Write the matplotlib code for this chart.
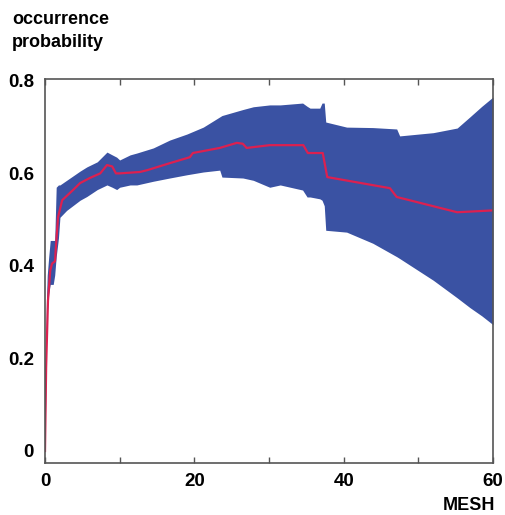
import numpy as np
import matplotlib.pyplot as plt

plt.rcParams['font.family'] = ['Liberation Sans', 'DejaVu Sans']

# spread of occurrence probability (lower / upper bound) vs MESH
band_x = [0.0, 0.1, 0.2, 0.3, 0.5, 0.7, 1.1, 1.3, 1.5, 1.8, 2.0, 2.9, 4.7, 5.6,
          7.0, 8.3, 9.0, 9.6, 10.0, 11.4, 12.3, 14.5, 16.7, 19.0, 21.2, 23.4,
          23.7, 26.5, 27.9, 30.1, 31.5, 34.5, 35.1, 35.5, 36.8, 37.1, 37.4,
          37.6, 40.4, 43.9, 47.1, 47.5, 52.0, 55.2, 56.9, 58.5, 60.0]
band_lo = [0.0, 0.12, 0.24, 0.30, 0.34, 0.36, 0.36, 0.38, 0.42, 0.46, 0.505,
           0.52, 0.542, 0.55, 0.565, 0.575, 0.57, 0.565, 0.57, 0.575, 0.575,
           0.583, 0.59, 0.597, 0.603, 0.607, 0.592, 0.59, 0.585, 0.57, 0.575,
           0.564, 0.549, 0.549, 0.545, 0.542, 0.53, 0.477, 0.473, 0.449, 0.42,
           0.416, 0.369, 0.331, 0.31, 0.292, 0.273]
band_hi = [0.03, 0.22, 0.33, 0.38, 0.42, 0.455, 0.455, 0.455, 0.57, 0.575,
           0.575, 0.585, 0.605, 0.614, 0.625, 0.646, 0.64, 0.635, 0.629, 0.64,
           0.644, 0.655, 0.672, 0.685, 0.70, 0.722, 0.725, 0.738, 0.744, 0.748,
           0.748, 0.752, 0.745, 0.741, 0.741, 0.752, 0.752, 0.711, 0.70, 0.699,
           0.696, 0.681, 0.688, 0.698, 0.722, 0.745, 0.765]

# median curve
med_x = [0.0, 0.15, 0.4, 0.7, 0.94, 1.34, 1.5, 1.74, 2.3, 3.75, 4.7, 6.0, 7.4,
         8.3, 9.0, 9.5, 10.0, 12.7, 13.7, 16.7, 19.4, 19.8, 23.4, 25.7, 26.5,
         27.0, 30.1, 34.6, 35.2, 37.2, 37.8, 46.2, 47.1, 55.2, 60.0]
med_y = [0.0, 0.18, 0.325, 0.39, 0.405, 0.41, 0.45, 0.505, 0.542, 0.564,
         0.579, 0.59, 0.60, 0.618, 0.615, 0.60, 0.60, 0.603, 0.607, 0.622,
         0.635, 0.644, 0.655, 0.666, 0.664, 0.655, 0.661, 0.661, 0.644, 0.644,
         0.592, 0.568, 0.549, 0.516, 0.520]

x_ticks = [0, 10, 20, 30, 40, 50, 60]
x_labels = ['0', '', '20', '', '40', '', '60']
y_ticks = [0, 0.2, 0.4, 0.6, 0.8]
y_labels = ['0', '0.2', '0.4', '0.6', '0.8']

fig = plt.figure(figsize=(5.05, 5.15), dpi=100)
ax = fig.add_axes([45/505, 1 - 463/515, 448/505, 384/515])

ax.fill_between(band_x, band_lo, band_hi, color='#3a52a3', lw=0)
ax.plot(med_x, med_y, color='#dc2050', lw=1.6)

ax.set_xlim(0, 60)
ax.set_ylim(-0.026, 0.804)
ax.set_xticks(x_ticks)
ax.set_xticklabels(x_labels)
ax.set_yticks(y_ticks)
ax.set_yticklabels(y_labels)

for s in ax.spines.values():
    s.set_color('#555555')
    s.set_linewidth(1.2)

ax.tick_params(axis='x', direction='in', length=4, width=1,
               color='#555555', top=True, pad=7, labelsize=13.5)
ax.tick_params(axis='y', length=0, pad=8, labelsize=13.5)
for lab in ax.get_xticklabels() + ax.get_yticklabels():
    lab.set_fontweight('bold')

fig.text(12/505, 1 - 11/515, 'occurrence\nprobability', ha='left', va='top',
         fontsize=13, fontweight='bold', linespacing=1.45)
fig.text(495/505, 1 - 506/515, 'MESH', ha='right', va='center',
         fontsize=13, fontweight='bold')

fig.savefig('out.png', dpi=100)
